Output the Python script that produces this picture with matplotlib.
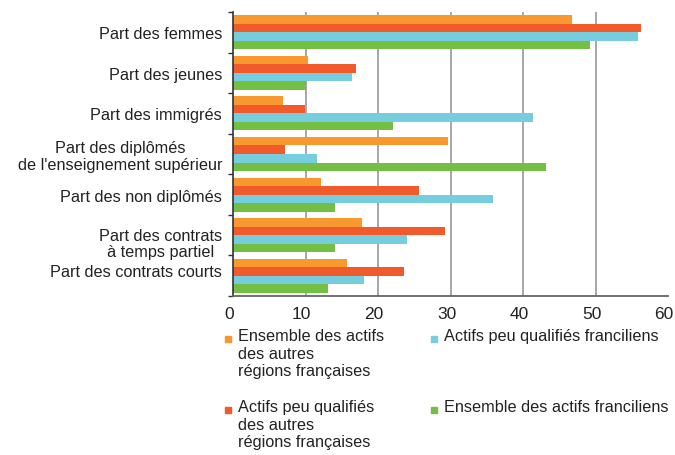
import numpy as np
import matplotlib.pyplot as plt
from matplotlib.patches import Rectangle
from matplotlib.transforms import ScaledTranslation

plt.rcParams['font.family'] = ['Liberation Sans', 'DejaVu Sans']

categories = ["Part des femmes", "Part des jeunes", "Part des immigrés",
              "Part des diplômés\nde l'enseignement supérieur",
              "Part des non diplômés", "Part des contrats\nà temps partiel",
              "Part des contrats courts"]

series_names = ["Ensemble des actifs\ndes autres\nrégions françaises",
                "Actifs peu qualifiés\ndes autres\nrégions françaises",
                "Actifs peu qualifiés franciliens",
                "Ensemble des actifs franciliens"]

autres_ensemble = [46.7, 10.3, 6.9, 29.7, 12.1, 17.7, 15.7]
autres_peu_qualif = [56.3, 16.9, 9.9, 7.2, 25.7, 29.2, 23.6]
idf_peu_qualif = [55.9, 16.4, 41.3, 11.5, 35.8, 24.0, 18.1]
idf_ensemble = [49.2, 10.0, 22.1, 43.2, 14.1, 14.1, 13.1]

colors = ['#F7992E', '#F15A2B', '#75CDDD', '#72BF44']
series = [autres_ensemble, autres_peu_qualif, idf_peu_qualif, idf_ensemble]

fig = plt.figure(figsize=(6.75, 4.56), dpi=100)
ax = fig.add_axes([233.3 / 675, 1 - 297 / 456, (668 - 233.3) / 675, (297 - 13) / 456])

y = np.arange(len(categories))
h = 0.21
offsets = [-1.5 * h, -0.5 * h, 0.5 * h, 1.5 * h]
for vals, c, off in zip(series, colors, offsets):
    ax.barh(y + off, vals, height=h, color=c, zorder=2)

ax.set_xlim(0, 60)
ax.set_ylim(len(categories) - 0.5, -0.5)
ax.set_xticks(range(0, 61, 10))
ax.tick_params(axis='x', length=0, pad=7, labelsize=12.5, labelcolor='#222222')
for lab in ax.get_xticklabels():
    lab.set_transform(lab.get_transform() + ScaledTranslation(-4 / 100, 0, fig.dpi_scale_trans))

label_shift = [0, 0, 0, 0, 0, 0.15, -0.15]
ax.set_yticks(y + np.array(label_shift))
ax.set_yticklabels(categories, multialignment='center', fontsize=11.7, color='#222222',
                   linespacing=1.1)
ax.tick_params(axis='y', which='major', length=0, pad=8)
ax.set_yticks(np.arange(len(categories) + 1) - 0.5, minor=True)
ax.tick_params(axis='y', which='minor', length=3.5, width=1, color='#333333', direction='out')

for x in range(10, 60, 10):
    ax.axvline(x, color='#A0A0A0', lw=1.3, zorder=1)

for s in ['top', 'right']:
    ax.spines[s].set_visible(False)
ax.spines['left'].set_color('#333333')
ax.spines['left'].set_linewidth(1.2)
ax.spines['bottom'].set_color('#666666')
ax.spines['bottom'].set_linewidth(1.3)

# legend, two columns
leg_pos = [(228, 339.5), (228, 410.5), (434, 339.5), (434, 410.5)]
for (px, py), name, c in zip(leg_pos, series_names, colors):
    fig.patches.append(Rectangle(((px - 3) / 675, 1 - (py + 3) / 456), 6 / 675, 6 / 456,
                                 transform=fig.transFigure, color=c))
    fig.text((px + 10) / 675, 1 - (py - 10) / 456, name, fontsize=11.7, color='#222222',
             va='top', ha='left', linespacing=1.2)

fig.savefig('out.png', dpi=100)
